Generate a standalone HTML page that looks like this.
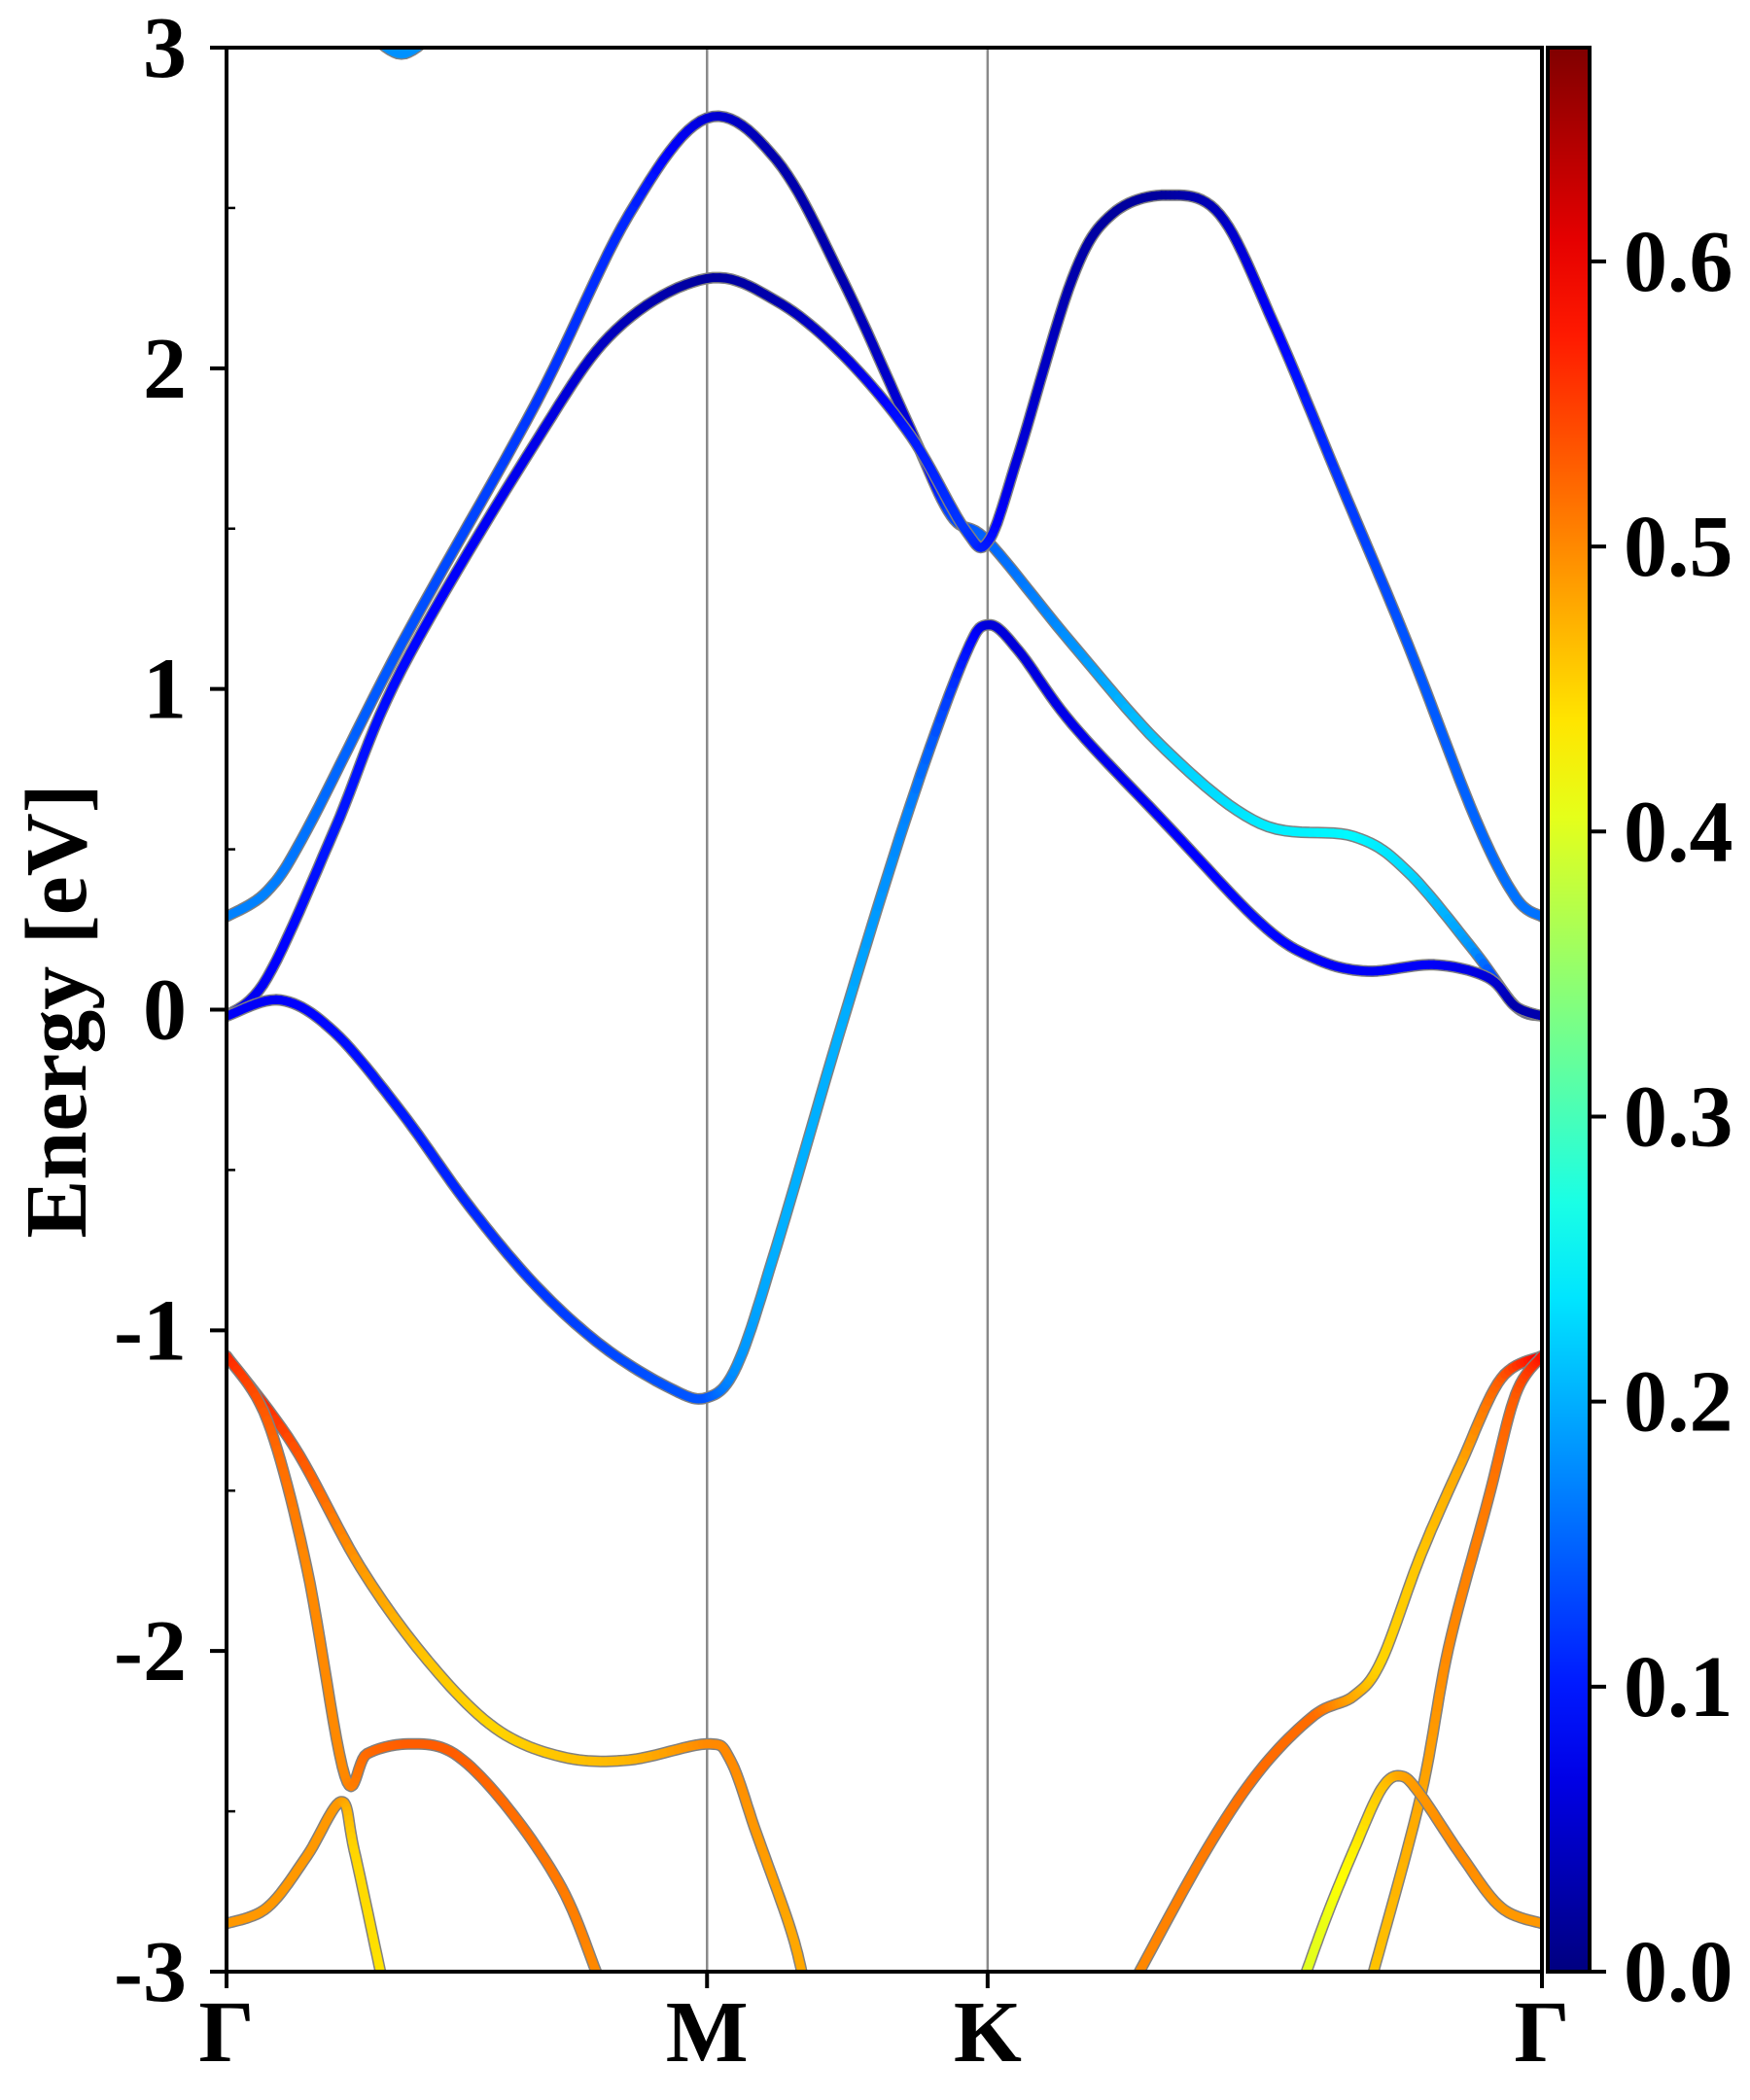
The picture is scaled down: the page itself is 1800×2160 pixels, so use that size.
<!DOCTYPE html>
<html><head><meta charset="utf-8"><style>
html,body{margin:0;padding:0;background:#fff;}
svg{display:block;}
text{font-family:"Liberation Serif",serif;font-weight:bold;fill:#000;}
</style></head><body>
<svg id="chart" width="1800" height="2160" viewBox="0 0 1800 2160">
<defs>
<clipPath id="plotclip"><rect x="233" y="49" width="1353" height="1979"/></clipPath>
<linearGradient id="jet" x1="0" y1="1" x2="0" y2="0"></linearGradient>
</defs>
<g id="bands" clip-path="url(#plotclip)"></g>
<g id="axes"></g>
</svg>
<script>
// ---- data ----
const kLabels = ["Γ","M","K","Γ"];
const kLabelPos = [0, 0.3653, 0.5786, 1];
const yTicks = [-3,-2,-1,0,1,2,3];
const cbTicks = [0.0,0.1,0.2,0.3,0.4,0.5,0.6];
const cbMax = 0.675;
const bandNames = ["band-a","band-b","band-c","band-d","band-e","band-f","band-g","band-h","band-i","band-top"];
const bandK = [
 [0,.031,.061,.133,.235,.306,.365,.418,.469,.520,.551,.579,.643,.714,.786,.857,.898,.949,.980,1],
 [0,.031,.082,.133,.235,.296,.365,.418,.469,.520,.561,.579,.602,.643,.673,.714,.755,.796,.847,.898,.949,.980,1],
 [0,.041,.082,.133,.184,.235,.286,.337,.365,.388,.418,.469,.520,.561,.579,.602,.643,.714,.786,.827,.867,.918,.959,.980,1],
 [0,.051,.102,.153,.204,.255,.306,.365,.383,.403,.429,.44],
 [0,.031,.061,.090,.107,.138,.173,.214,.255,.281,.29],
 [0,.031,.061,.087,.097,.117,.12],
 [.694,.745,.786,.827,.857,.878,.908,.939,.969,1],
 [.872,.908,.929,.959,.980,1],
 [.821,.837,.857,.878,.893,.908,.939,.969,1],
 [.100,.133,.166]
];
const bandE = [
 [0.29,0.37,0.56,1.14,1.89,2.48,2.78,2.65,2.27,1.81,1.54,1.46,1.14,0.81,0.58,0.54,0.43,0.18,0.01,-0.02],
 [-0.02,0.10,0.56,1.06,1.77,2.12,2.28,2.21,2.04,1.79,1.50,1.46,1.73,2.28,2.48,2.54,2.48,2.14,1.64,1.14,0.60,0.35,0.29],
 [-0.02,0.03,-0.07,-0.32,-0.61,-0.86,-1.05,-1.18,-1.21,-1.11,-0.74,-0.03,0.64,1.10,1.20,1.12,0.89,0.58,0.27,0.16,0.12,0.14,0.10,0.01,-0.02],
 [-1.08,-1.36,-1.74,-2.03,-2.24,-2.33,-2.34,-2.29,-2.34,-2.57,-2.87,-3.05],
 [-1.08,-1.28,-1.74,-2.39,-2.32,-2.29,-2.32,-2.49,-2.74,-3.0,-3.1],
 [-2.85,-2.80,-2.64,-2.47,-2.62,-3.0,-3.05],
 [-3.0,-2.62,-2.37,-2.20,-2.14,-2.03,-1.70,-1.41,-1.15,-1.08],
 [-3.0,-2.45,-1.99,-1.53,-1.20,-1.08],
 [-3.0,-2.82,-2.62,-2.43,-2.39,-2.45,-2.64,-2.80,-2.85],
 [3.08,2.98,3.08]
];
const bandW = [
 [.17,.17,.16,.14,.12,.11,.06,.03,.03,.06,.13,.15,.18,.22,.24,.25,.23,.18,.06,.04],
 [.06,.08,.1,.09,.07,.04,.02,.03,.06,.1,.12,.1,.06,.03,.02,.02,.04,.08,.12,.14,.15,.16,.16],
 [.08,.08,.09,.1,.11,.12,.13,.14,.14,.18,.2,.2,.17,.1,.06,.06,.07,.08,.09,.08,.08,.08,.06,.03,.03],
 [.6,.54,.49,.46,.45,.46,.47,.5,.5,.49,.48,.48],
 [.57,.53,.5,.5,.52,.53,.53,.52,.51,.5,.5],
 [.49,.49,.49,.49,.45,.44,.44],
 [.5,.51,.52,.52,.48,.45,.46,.48,.53,.6],
 [.46,.48,.5,.51,.53,.58],
 [.4,.41,.43,.46,.48,.49,.5,.49,.49],
 [.18,.18,.18]
];
// ---- layout ----
const X0=233,X1=1586,Y0=2028,Y1=49,CBX0=1592,CBX1=1635;
const xs=k=>X0+k*(X1-X0);
const ys=e=>Y0+(e+3)/6*(Y1-Y0);
const cby=v=>Y0-v/cbMax*(Y0-Y1);
const NS="http://www.w3.org/2000/svg";
function mk(tag,attrs,parent){const el=document.createElementNS(NS,tag);for(const a in attrs)el.setAttribute(a,attrs[a]);parent.appendChild(el);return el;}
function jet(v){
  const t=Math.max(0,Math.min(1,v/cbMax));
  const c=x=>Math.round(255*Math.max(0,Math.min(1,x)));
  const r=c(1.5-Math.abs(4*t-3)), g=c(1.5-Math.abs(4*t-2)), b=c(1.5-Math.abs(4*t-1));
  return `rgb(${r},${g},${b})`;
}
const svg=document.getElementById('chart');
const bandsG=document.getElementById('bands');
const axesG=document.getElementById('axes');
[1,2].forEach(i=>{
  const l=mk('line',{x1:xs(kLabelPos[i]),x2:xs(kLabelPos[i]),y1:Y1,y2:Y0,stroke:'#8a8a8a','stroke-width':2.5},bandsG);
  
  
});
function smooth(px,py,pw){
  const out=[];const n=px.length;
  for(let i=0;i<n-1;i++){
    const p0=i>0?i-1:i,p3=i+2<n?i+2:i+1;
    for(let s=0;s<12;s++){
      const t=s/12,t2=t*t,t3=t2*t;
      const f=(a,b,c,d)=>0.5*((2*b)+(-a+c)*t+(2*a-5*b+4*c-d)*t2+(-a+3*b-3*c+d)*t3);
      out.push([f(px[p0],px[i],px[i+1],px[p3]),f(py[p0],py[i],py[i+1],py[p3]),pw[i]+(pw[i+1]-pw[i])*t]);
    }
  }
  out.push([px[n-1],py[n-1],pw[n-1]]);
  return out;
}
bandK.forEach((kk,bi)=>{
  const g=mk('g',{},bandsG);
  
  
  const pts=smooth(kk.map(xs),bandE[bi].map(ys),bandW[bi]);
  const d='M'+pts.map(p=>p[0].toFixed(1)+','+p[1].toFixed(1)).join('L');
  mk('path',{d:d,fill:'none',stroke:'#808080','stroke-width':12,'stroke-linejoin':'round','stroke-linecap':'round'},g);
  for(let i=0;i<pts.length-1;i++){
    const w=(pts[i][2]+pts[i+1][2])/2;
    const seg=mk('line',{x1:pts[i][0].toFixed(1),y1:pts[i][1].toFixed(1),x2:pts[i+1][0].toFixed(1),y2:pts[i+1][1].toFixed(1),stroke:jet(w),'stroke-width':9,'stroke-linecap':'round'},g);
    
    
  }
});
const frame=mk('rect',{x:X0,y:Y1,width:X1-X0,height:Y0-Y1,fill:'none',stroke:'#000','stroke-width':4},axesG);


yTicks.forEach(v=>{
  mk('line',{x1:X0-17,x2:X0,y1:ys(v),y2:ys(v),stroke:'#000','stroke-width':4},axesG);
  const t=mk('text',{x:192,y:ys(v)+30,'text-anchor':'end','font-size':90},axesG);
  t.textContent=String(v);
  
  
});
for(let v=-2.5;v<3;v+=1){
  mk('line',{x1:X0,x2:X0+9,y1:ys(v),y2:ys(v),stroke:'#000','stroke-width':2.5},axesG);
}
kLabels.forEach((lab,i)=>{
  mk('line',{x1:xs(kLabelPos[i]),x2:xs(kLabelPos[i]),y1:Y0,y2:Y0+17,stroke:'#000','stroke-width':4},axesG);
  const t=mk('text',{x:xs(kLabelPos[i]),y:2120,'text-anchor':'middle','font-size':90},axesG);
  t.textContent=lab;
  
  
});
const yt=mk('text',{x:0,y:0,'text-anchor':'middle','font-size':90,transform:'translate(88,1040) rotate(-90)'},axesG);
yt.textContent='Energy [eV]';


const grad=document.getElementById('jet');
for(let i=0;i<=20;i++){
  const v=i/20*cbMax;
  mk('stop',{offset:(i/20),'stop-color':jet(v)},grad);
}
const cb=mk('rect',{x:CBX0,y:Y1,width:CBX1-CBX0,height:Y0-Y1,fill:'url(#jet)',stroke:'#000','stroke-width':4},axesG);


cbTicks.forEach(v=>{
  mk('line',{x1:CBX1,x2:CBX1+17,y1:cby(v),y2:cby(v),stroke:'#000','stroke-width':4},axesG);
  const t=mk('text',{x:1670,y:cby(v)+30,'text-anchor':'start','font-size':90},axesG);
  t.textContent=v.toFixed(1);
  
  
});
</script>
</body></html>
